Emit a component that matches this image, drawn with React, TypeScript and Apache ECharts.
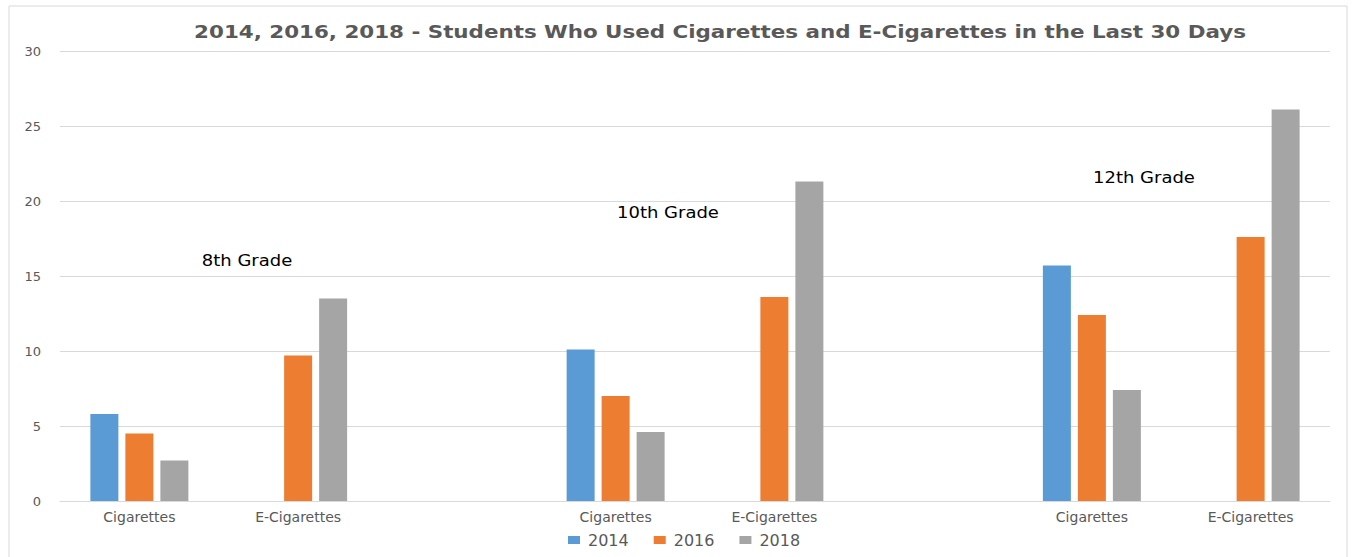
import React, { useEffect, useRef } from "react";
import * as echarts from "echarts";

const categories = ["Cigarettes", "E-Cigarettes", "", "Cigarettes", "E-Cigarettes", "", "Cigarettes", "E-Cigarettes"];
const seriesNames = ["2014", "2016", "2018"];
const values2014 = [5.8, null, null, 10.1, null, null, 15.7, null];
const values2016 = [4.5, 9.7, null, 7.0, 13.6, null, 12.4, 17.6];
const values2018 = [2.7, 13.5, null, 4.6, 21.3, null, 7.4, 26.1];
const colors = ["#5B9BD5", "#ED7D31", "#A5A5A5"];
const gradeLabels = ["8th Grade", "10th Grade", "12th Grade"];
const titleText = "2014, 2016, 2018 - Students Who Used Cigarettes and E-Cigarettes in the Last 30 Days";

const FONT = "'DejaVu Sans', 'Open Sans', sans-serif";

export default function App() {
  const ref = useRef<HTMLDivElement>(null);
  useEffect(() => {
    document.body.style.margin = "0";
    const chart = echarts.init(ref.current!, null, { renderer: "svg" });
    const all = [values2014, values2016, values2018];
    const gradePos = [
      [247, 261],
      [668, 213],
      [1144, 178],
    ];
    chart.setOption({
      animation: false,
      backgroundColor: "#ffffff",
      textStyle: { fontFamily: FONT },
      legend: {
        bottom: 4,
        left: 563,
        itemWidth: 12,
        itemHeight: 8,
        itemGap: 25,
        icon: "rect",
        textStyle: { fontFamily: FONT, fontSize: 16, color: "#595959", padding: [0, 0, 0, 3] },
        data: seriesNames,
      },
      grid: { left: 60, right: 24, top: 51, bottom: 56, containLabel: false },
      xAxis: {
        type: "category",
        data: categories,
        axisLine: { lineStyle: { color: "#D9D9D9", width: 1 } },
        axisTick: { show: false },
        axisLabel: { fontFamily: FONT, fontSize: 14, color: "#595959", margin: 9, interval: 0 },
      },
      yAxis: {
        type: "value",
        min: 0,
        max: 30,
        interval: 5,
        axisLine: { show: false },
        axisTick: { show: false },
        axisLabel: { fontFamily: FONT, fontSize: 13, color: "#595959", margin: 19 },
        splitLine: { lineStyle: { color: "#D9D9D9", width: 1 } },
      },
      series: seriesNames.map((name, i) => ({
        name,
        type: "bar",
        data: all[i],
        barWidth: 28,
        barGap: "25%",
        itemStyle: { color: colors[i] },
      })),
      graphic: [
        {
          type: "rect",
          shape: { x: 9, y: 6, width: 1338, height: 600 },
          style: { fill: "none", stroke: "#D9D9D9", lineWidth: 1 },
          silent: true,
        },
        {
          type: "text",
          x: 720,
          y: 32,
          scaleX: 1.19,
          style: {
            text: titleText,
            fill: "#595959",
            font: `bold 18px ${FONT}`,
            textAlign: "center",
            textVerticalAlign: "middle",
          },
        },
        ...gradeLabels.map((t, i) => ({
          type: "text",
          x: gradePos[i][0],
          y: gradePos[i][1],
          scaleX: 1.2,
          style: { text: t, fill: "#000000", font: `15px ${FONT}`, textAlign: "center", textVerticalAlign: "middle" },
        })),
      ],
    });
    return () => chart.dispose();
  }, []);
  return <div ref={ref} style={{ width: 1354, height: 557 }} />;
}
